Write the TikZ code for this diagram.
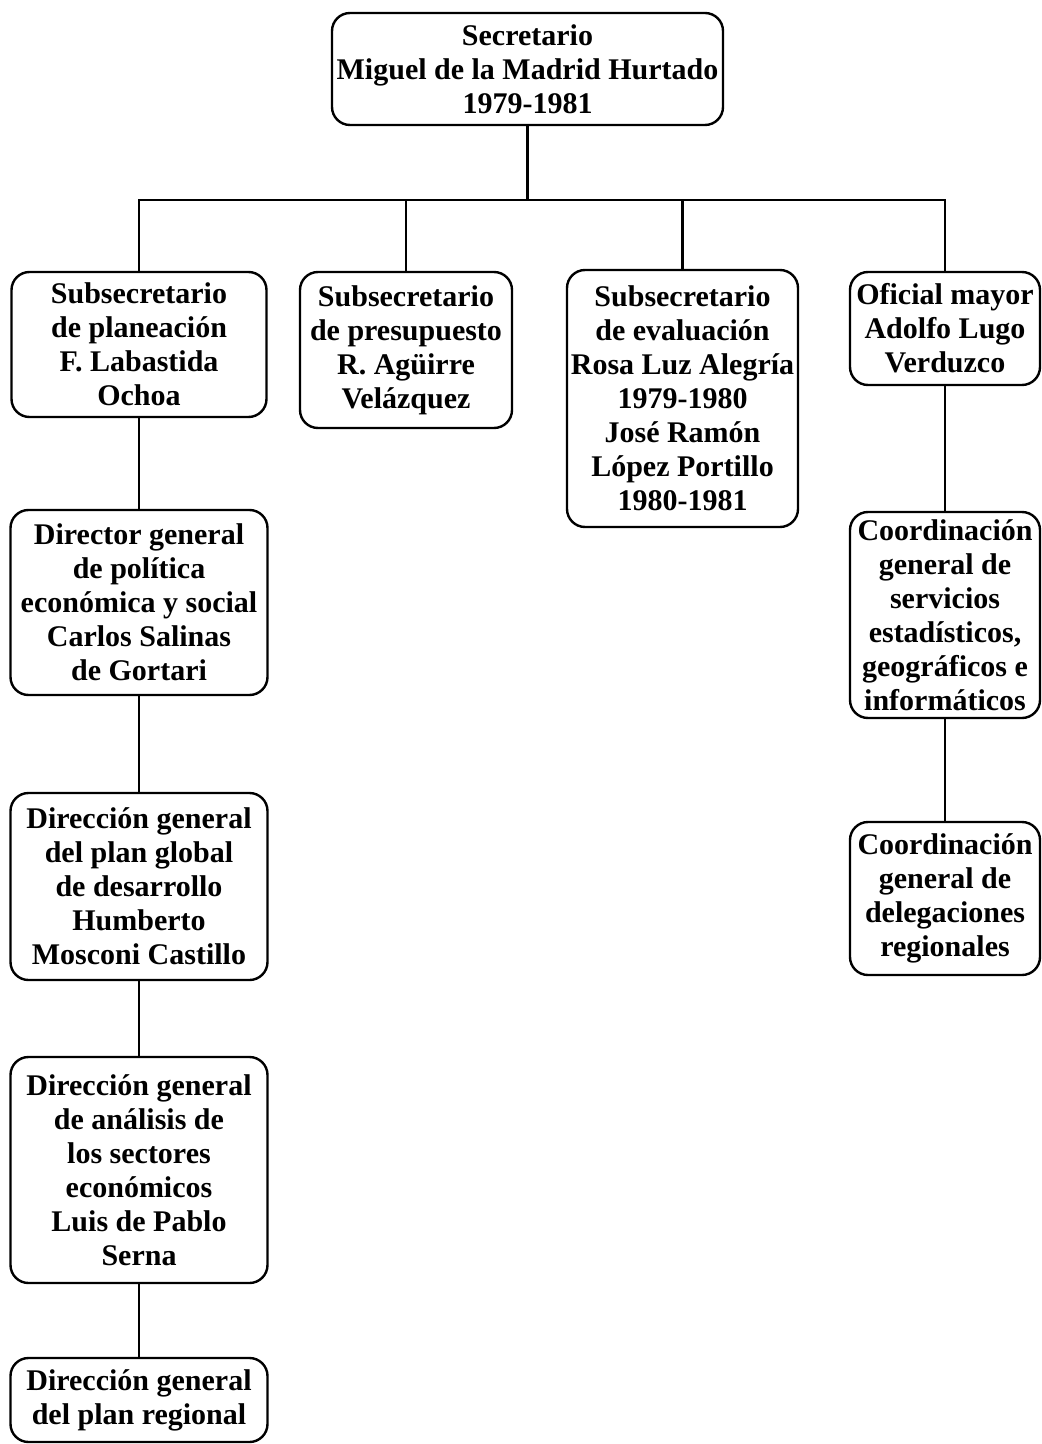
\documentclass[tikz,border=0pt]{standalone}
\usepackage{fontspec}
\setmainfont{Liberation Serif}
\begin{document}
\begin{tikzpicture}[x=0.5pt,y=-0.5pt,
  orgbox/.style={draw, line width=1.2pt, rounded corners=9pt, inner sep=0pt,
    align=center, font=\fontsize{15}{17}\selectfont\bfseries},
  link/.style={line width=1.2pt}]
\useasboundingbox (0,0) rectangle (1042,1444);
\node[orgbox, minimum width=195.5pt, minimum height=56pt] (S) at (527.5,69)
  {Secretario\\Miguel de la Madrid Hurtado\\1979-1981};
\node[orgbox, minimum width=127.5pt, minimum height=72.5pt] (A) at (139,344.5)
  {Subsecretario\\de planeación\\F. Labastida\\Ochoa};
\node[orgbox, minimum width=106pt, minimum height=78pt] (B) at (406,350)
  {Subsecretario\\de presupuesto\\R. Agüirre\\Velázquez};
\node[orgbox, minimum width=115.5pt, minimum height=128.5pt] (C) at (682.5,398.5)
  {Subsecretario\\de evaluación\\Rosa Luz Alegría\\1979-1980\\José Ramón\\López Portillo\\1980-1981};
\node[orgbox, minimum width=95pt, minimum height=56.5pt] (D) at (945,328.5)
  {Oficial mayor\\Adolfo Lugo\\Verduzco};
\node[orgbox, minimum width=95pt, minimum height=103pt] (E) at (945,615)
  {Coordinación\\general de\\servicios\\estadísticos,\\geográficos e\\informáticos};
\node[orgbox, minimum width=95pt, minimum height=76.5pt] (F) at (945,898.5)
  {Coordinación\\general de\\delegaciones\\regionales};
\node[orgbox, minimum width=128.5pt, minimum height=92.5pt] (G) at (139,602.5)
  {Director general\\de política\\económica y social\\Carlos Salinas\\de Gortari};
\node[orgbox, minimum width=128.5pt, minimum height=93.5pt] (H) at (139,886.5)
  {Dirección general\\del plan global\\de desarrollo\\Humberto\\Mosconi Castillo};
\node[orgbox, minimum width=128.5pt, minimum height=113pt] (I) at (139,1170)
  {Dirección general\\de análisis de\\los sectores\\económicos\\Luis de Pablo\\Serna};
\node[orgbox, minimum width=128.5pt, minimum height=42pt] (J) at (139,1400)
  {Dirección general\\del plan regional};
\coordinate (bus) at (0,200);
\draw[link] (S.south) -- (S.south |- bus);
\draw[link] (A.north) -- (A.north |- bus) -| (D.north);
\draw[link] (B.north) -- (B.north |- bus);
\draw[link] (C.north) -- (C.north |- bus);
\draw[link] (A.south) -- (G.north);
\draw[link] (G.south) -- (H.north);
\draw[link] (H.south) -- (I.north);
\draw[link] (I.south) -- (J.north);
\draw[link] (D.south) -- (E.north);
\draw[link] (E.south) -- (F.north);
\end{tikzpicture}
\end{document}
